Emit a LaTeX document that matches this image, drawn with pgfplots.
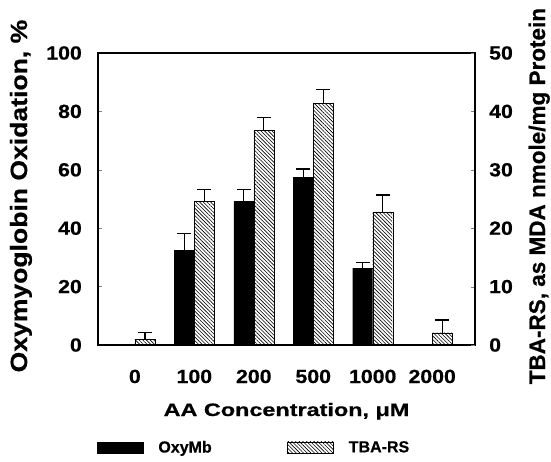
\documentclass[border=0pt]{standalone}
\usepackage{fontspec}
\setmainfont{Liberation Sans}
\newfontfamily\tickfont{Liberation Sans}[FakeStretch=1.12, FakeBold=0.6]
\newfontfamily\xlabfont{Liberation Sans}[FakeStretch=1.3, FakeBold=0.6]
\newfontfamily\ylabfont{Liberation Sans}[FakeStretch=1.13, FakeBold=0.6]
\newfontfamily\rlabfont{Liberation Sans}[FakeBold=0.6]
\newfontfamily\legfont{Liberation Sans}[FakeBold=0.6]
\usepackage{pgfplots}
\pgfplotsset{compat=1.18}
\usetikzlibrary{patterns.meta}
\tikzset{hatch/.style={pattern={Lines[angle=-45, distance=2.6bp, line width=0.6bp]}, pattern color=black}}
\pgfplotsset{
  swatch/.style={legend image code/.code={\draw[##1] (0bp,-5.5bp) rectangle (46bp,5.5bp);}},
  errstyle/.style={forget plot, draw=none, mark=none,
    error bars/.cd, y dir=plus, y explicit,
    error bar style={line width=1.3bp, draw=black, solid},
    error mark options={rotate=90, mark size=7bp, line width=1.3bp, draw=black, solid}},
}
\begin{document}
\begin{tikzpicture}
\useasboundingbox (0,0) rectangle (551bp,462bp);
\begin{axis}[
  at={(98bp,117bp)}, anchor=south west,
  scale only axis, width=377bp, height=292bp,
  xmin=-0.62, xmax=5.72, ymin=0, ymax=100,
  ytick={0,20,...,100}, yticklabels={0,20,40,60,80,100}, ytick pos=left,
  xtick={0,...,5}, xticklabels={0,100,200,500,1000,2000},
  major x tick style={draw=none},
  tick align=inside, major tick length=4bp,
  axis line style={line width=1.2bp},
  yticklabel style={font={\tickfont\bfseries\fontsize{19bp}{21bp}\selectfont}, anchor=east, inner sep=0pt, xshift=-16bp},
  xticklabel style={font={\tickfont\bfseries\fontsize{19bp}{21bp}\selectfont}, anchor=base, inner sep=0pt, yshift=-38bp},
  xlabel={AA Concentration, μM},
  xlabel style={font={\xlabfont\bfseries\fontsize{18bp}{20bp}\selectfont}, at={(axis description cs:0.5,0)}, anchor=base, inner sep=0pt, yshift=-71bp},
  ylabel={Oxymyoglobin Oxidation, \%},
  ylabel style={font={\ylabfont\bfseries\fontsize{23.5bp}{25bp}\selectfont}, at={(axis description cs:-0.1883,0.51)}, anchor=base, inner sep=0pt},
]
\addplot[ybar, fill=black, draw=black, bar width=20bp, bar shift=-10bp]
  coordinates {(1,32.3) (2,49.2) (3,57.3) (4,26.3)};
\addplot[errstyle] coordinates {
  (0.832,32.3) +- (0,5.8)
  (1.832,49.2) +- (0,4.0)
  (2.832,57.3) +- (0,3.0)
  (3.832,26.3) +- (0,1.9)
  };
\end{axis}
\begin{axis}[
  at={(98bp,117bp)}, anchor=south west,
  scale only axis, width=377bp, height=292bp,
  xmin=-0.62, xmax=5.72, ymin=0, ymax=50,
  axis y line*=right, axis x line=none,
  ytick={0,10,...,50}, yticklabels={0,10,20,30,40,50},
  tick align=inside, major tick length=4bp,
  axis line style={line width=1.2bp},
  yticklabel style={font={\tickfont\bfseries\fontsize{19bp}{21bp}\selectfont}, anchor=west, inner sep=0pt, xshift=14bp},
  ylabel={TBA-RS, as MDA nmole/mg Protein},
  ylabel style={font={\rlabfont\bfseries\fontsize{22.5bp}{24bp}\selectfont}, at={(axis description cs:1.1857,0.51)}, anchor=base, inner sep=0pt},
  legend style={draw=none, fill=none, inner sep=0pt, outer sep=0pt,
    at={(axis description cs:-0.00265,-0.351)}, anchor=west,
    legend columns=2, font={\legfont\bfseries\fontsize{16bp}{18bp}\selectfont},
    nodes={inner sep=0pt, text width=129bp, align=left},
    /tikz/every odd column/.append style={column sep=15bp}},
]
\addlegendimage{swatch, fill=black, draw=black}
\addlegendentry{OxyMb}
\addplot[ybar, hatch, draw=black, bar width=20bp, bar shift=10bp, swatch]
  coordinates {(0,1.0) (1,24.6) (2,36.8) (3,41.4) (4,22.8) (5,2.1)};
\addlegendentry{TBA-RS}
\addplot[errstyle] coordinates {
  (0.168,1.0) +- (0,1.1)
  (1.168,24.6) +- (0,2.0)
  (2.168,36.8) +- (0,2.1)
  (3.168,41.4) +- (0,2.4)
  (4.168,22.8) +- (0,2.9)
  (5.168,2.1) +- (0,2.2)
  };
\end{axis}
\end{tikzpicture}
\end{document}
